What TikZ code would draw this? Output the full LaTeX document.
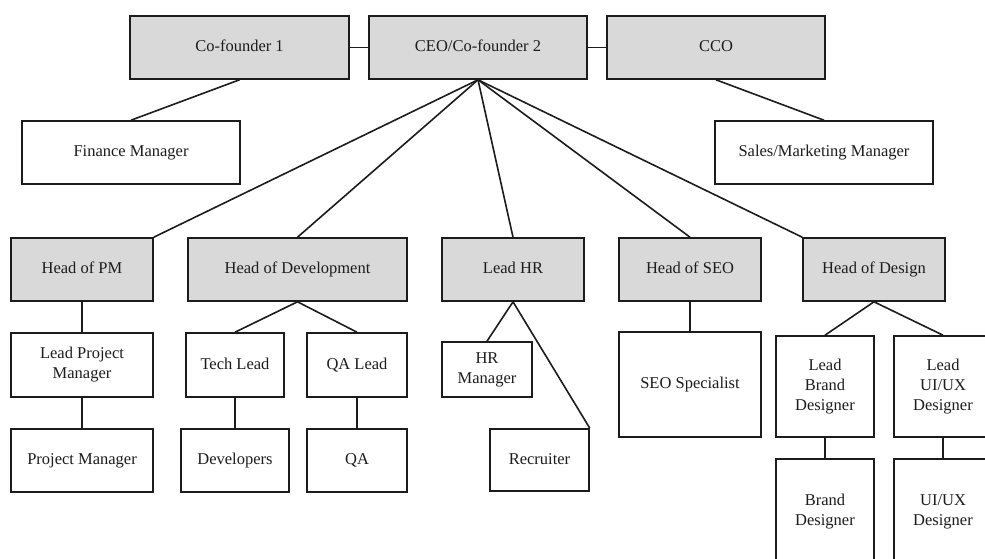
\documentclass[tikz,border=0pt]{standalone}
\usepackage{fontspec}
\setmainfont{Liberation Serif}
\definecolor{boxgray}{HTML}{D9D9D9}
\definecolor{ink}{HTML}{1C1C1C}
\begin{document}
\begin{tikzpicture}[x=1pt,y=-1pt,
  box/.style={draw=ink, line width=1.6pt, fill=white, align=center, inner sep=0pt,
    text=ink, font=\fontsize{16.5}{20}\selectfont},
  gbox/.style={box, fill=boxgray},
  one/.style={text height=11.5pt, text depth=3.5pt},
  link/.style={draw=ink, line width=1.6pt}]
\useasboundingbox (0,0) rectangle (985,558);
% top row
\node[gbox, one, minimum width=219pt, minimum height=63pt] (cf1) at (239.5,47.5) {Co-founder 1};
\node[gbox, one, minimum width=218pt, minimum height=63pt] (ceo) at (478,47.5) {CEO/Co-founder 2};
\node[gbox, one, minimum width=218pt, minimum height=63pt] (cco) at (716,47.5) {CCO};
% second row
\node[box, one, minimum width=218pt, minimum height=63pt] (fin) at (131,152.5) {Finance Manager};
\node[box, one, minimum width=218pt, minimum height=63pt] (sales) at (824,152.5) {Sales/Marketing Manager};
% heads
\node[gbox, one, minimum width=142pt, minimum height=63pt] (hpm) at (82,269.5) {Head of PM};
\node[gbox, one, minimum width=219pt, minimum height=63pt] (hdev) at (297.5,269.5) {Head of Development};
\node[gbox, one, minimum width=142pt, minimum height=63pt] (lhr) at (513,269.5) {Lead HR};
\node[gbox, one, minimum width=142pt, minimum height=63pt] (hseo) at (690,269.5) {Head of SEO};
\node[gbox, one, minimum width=142pt, minimum height=63pt] (hdes) at (874,269.5) {Head of Design};
% PM column
\node[box, minimum width=142pt, minimum height=64pt] (lpm) at (82,365) {Lead Project\\Manager};
\node[box, one, minimum width=142pt, minimum height=63pt] (pm) at (82,460.5) {Project Manager};
% Dev column
\node[box, one, minimum width=98pt, minimum height=64pt] (tech) at (235,365) {Tech Lead};
\node[box, one, minimum width=100pt, minimum height=64pt] (qal) at (357,365) {QA Lead};
\node[box, one, minimum width=108pt, minimum height=63pt] (devs) at (235,460.5) {Developers};
\node[box, one, minimum width=100pt, minimum height=63pt] (qa) at (357,460.5) {QA};
% HR column
\node[box, minimum width=90pt, minimum height=55pt] (hrm) at (487,369.5) {HR\\Manager};
\node[box, one, minimum width=99pt, minimum height=62pt] (rec) at (539.5,460) {Recruiter};
% SEO
\node[box, one, minimum width=142pt, minimum height=105pt] (seo) at (690,384.5) {SEO Specialist};
% Design
\node[box, minimum width=98pt, minimum height=101pt] (lbd) at (825,386.5) {Lead\\Brand\\Designer};
\node[box, minimum width=98pt, minimum height=101pt] (lux) at (943,386.5) {Lead\\UI/UX\\Designer};
\node[box, minimum width=98pt, minimum height=106pt] (bd) at (825,512) {Brand\\Designer};
\node[box, minimum width=98pt, minimum height=106pt] (ux) at (943,512) {UI/UX\\Designer};
% connectors
\draw[link] (cf1.east) -- (ceo.west);
\draw[link] (ceo.east) -- (cco.west);
\draw[link] (cf1.south) -- (fin.north);
\draw[link] (cco.south) -- (sales.north);
\draw[link] (ceo.south) -- (hpm.north east);
\draw[link] (ceo.south) -- (hdev.north);
\draw[link] (ceo.south) -- (lhr.north);
\draw[link] (ceo.south) -- (hseo.north);
\draw[link] (ceo.south) -- (hdes.north west);
\draw[link] (hpm.south) -- (lpm.north);
\draw[link] (lpm.south) -- (pm.north);
\draw[link] (hdev.south) -- (tech.north);
\draw[link] (hdev.south) -- (qal.north);
\draw[link] (tech.south) -- (tech.south |- devs.north);
\draw[link] (qal.south) -- (qa.north);
\draw[link] (lhr.south) -- (hrm.north);
\draw[link] (lhr.south) -- (rec.north east);
\draw[link] (hseo.south) -- (seo.north);
\draw[link] (hdes.south) -- (lbd.north);
\draw[link] (hdes.south) -- (lux.north);
\draw[link] (lbd.south) -- (bd.north);
\draw[link] (lux.south) -- (ux.north);
\end{tikzpicture}
\end{document}
